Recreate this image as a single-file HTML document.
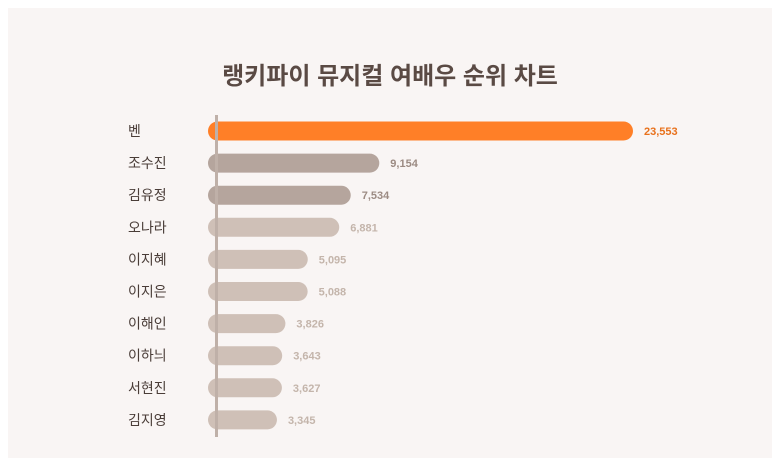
<!DOCTYPE html>
<html><head><meta charset="utf-8"><style>
body{margin:0;background:#fff;}
#card{position:absolute;left:8px;top:8px;width:764px;height:450px;background:#f9f5f4;}
svg{position:absolute;left:0;top:0;}
text{font-family:"Liberation Sans","Noto Sans CJK KR",sans-serif;}
</style></head><body>
<div id="card"></div>
<svg id="chart" width="780" height="468">
<text x="390" y="84" text-anchor="middle" font-size="24" font-weight="bold" fill="#5a4a44">랭키파이 뮤지컬 여배우 순위 차트</text>
</svg>
<script>
const categories=["벤","조수진","김유정","오나라","이지혜","이지은","이해인","이하늬","서현진","김지영"];
const values=[23553,9154,7534,6881,5095,5088,3826,3643,3627,3345];
const valueLabels=["23,553","9,154","7,534","6,881","5,095","5,088","3,826","3,643","3,627","3,345"];
const svg=document.getElementById('chart');
const NS='http://www.w3.org/2000/svg';
const x0=218,xMax=633,maxV=Math.max(...values);
const xs=v=>(v/maxV)*(xMax-x0);
const y0=131,step=32.1,bh=19;
const ys=i=>y0+i*step;
function mk(t,a){const e=document.createElementNS(NS,t);for(const k in a)e.setAttribute(k,a[k]);svg.appendChild(e);return e;}
categories.forEach((c,i)=>{
  const w=xs(values[i]),y=ys(i);
  const fill=i===0?'#ff7f27':(i<3?'#b5a59d':'#cfc0b7');
  const lc=i===0?'#e8711c':(i<3?'#9c8b83':'#c4b5ab');
  const r=mk('rect',{x:x0-10,y:y-bh/2,width:w+10,height:bh,rx:bh/2,fill:fill});
  
  
  const n=mk('text',{x:128,y:y+5,'font-size':14,fill:'#4a3d38'});n.textContent=c;
  
  
  const v=mk('text',{x:x0+w+11,y:y+4,'font-size':11,'font-weight':'bold',fill:lc});v.textContent=valueLabels[i];
  
  
});
const ax=mk('rect',{x:215,y:115,width:3,height:322,fill:'#bfb0a8'});


</script>
</body></html>
